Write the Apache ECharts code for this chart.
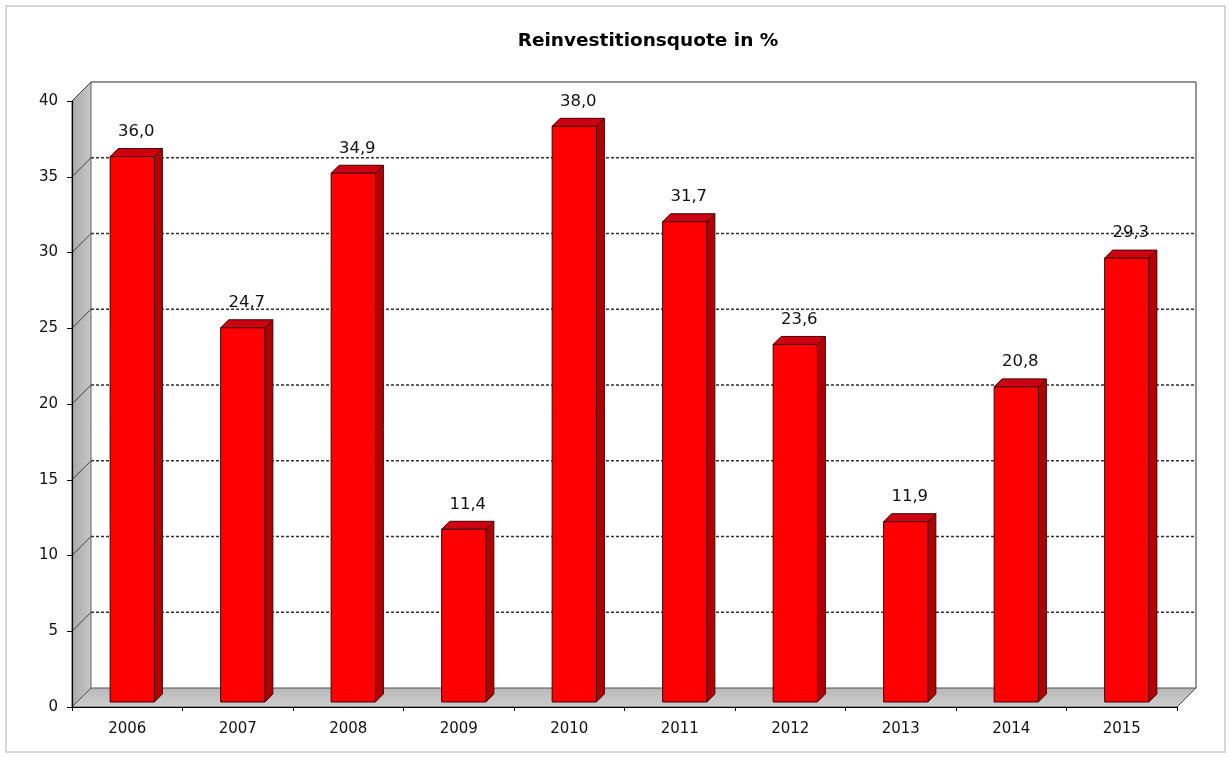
<!DOCTYPE html>
<html>
<head>
<meta charset="utf-8">
<script src="https://cdn.jsdelivr.net/npm/echarts@6/dist/echarts.min.js"></script>
<style>html,body{margin:0;padding:0;background:#fff}#c{width:1229px;height:758px}</style>
</head>
<body>
<div id="c"></div>
<script>
const titleText = 'Reinvestitionsquote in %';
const years = ['2006','2007','2008','2009','2010','2011','2012','2013','2014','2015'];
const values = [36.0, 24.7, 34.9, 11.4, 38.0, 31.7, 23.6, 11.9, 20.8, 29.3];
const yTicks = [0, 5, 10, 15, 20, 25, 30, 35, 40];

const FONT = 'DejaVu Sans';
const WALL = 19;     // depth of back wall
const BAR_D0 = 5;    // bar front depth
const BAR_D1 = 13;   // bar back depth

const chart = echarts.init(document.getElementById('c'), null, {renderer: 'canvas'});

function fmt(v){ return v.toFixed(1).replace('.', ','); }

function renderWalls(params, api){
  const cs = params.coordSys;
  const x0 = cs.x, x1 = cs.x + cs.width;
  const yTop = api.coord([0, yTicks[yTicks.length-1]])[1];
  const yBot = api.coord([0, 0])[1];
  const D = WALL;
  const ch = [];
  ch.push({type:'polygon', shape:{points:[[x0+D,yTop-D],[x1+D,yTop-D],[x1+D,yBot-D],[x0+D,yBot-D]]},
    style:{fill:'#ffffff', stroke:null}});
  ch.push({type:'polygon', shape:{points:[[x0,yTop],[x0+D,yTop-D],[x0+D,yBot-D],[x0,yBot]]},
    style:{fill:new echarts.graphic.LinearGradient(0,0,1,0,[{offset:0,color:'#a8a8a8'},{offset:1,color:'#c8c8c8'}]), stroke:'#606060', lineWidth:1}});
  ch.push({type:'polygon', shape:{points:[[x0,yBot],[x0+D,yBot-D],[x1+D,yBot-D],[x1,yBot]]},
    style:{fill:new echarts.graphic.LinearGradient(0,0,0,1,[{offset:0,color:'#b8b8b8'},{offset:1,color:'#cecece'}]), stroke:'#505050', lineWidth:1}});
  yTicks.forEach(function(v){
    if (v === 0) return;
    const y = api.coord([0, v])[1];
    ch.push({type:'line', shape:{x1:x0, y1:y, x2:x0+D, y2:y-D}, style:{stroke:'#404040', lineWidth:1}});
    if (v === yTicks[yTicks.length-1]) {
      ch.push({type:'line', shape:{x1:x0+D, y1:y-D, x2:x1+D, y2:y-D}, style:{stroke:'#707070', lineWidth:1.5}});
    } else {
      ch.push({type:'line', shape:{x1:x0+D, y1:y-D, x2:x1+D, y2:y-D}, style:{stroke:'#303030', lineWidth:1.3, lineDash:[3,2]}});
    }
  });
  ch.push({type:'line', shape:{x1:x1+D, y1:yTop-D, x2:x1+D, y2:yBot-D}, style:{stroke:'#505050', lineWidth:1.2}});
  return {type:'group', children: ch};
}

function renderBar(params, api){
  const i = api.value(0), v = api.value(1);
  const top = api.coord([i, v]);
  const base = api.coord([i, 0]);
  const bw = api.size([1, 0])[0] * 0.4;
  const dd = BAR_D1 - BAR_D0;
  const xa = top[0] - bw/2 + BAR_D0, xb = xa + bw;
  const yT = top[1] - BAR_D0, yB = base[1] - BAR_D0;
  const stroke = {stroke:'#400000', lineWidth:1};
  return {type:'group', children:[
    {type:'polygon', shape:{points:[[xb,yT],[xb+dd,yT-dd],[xb+dd,yB-dd],[xb,yB]]}, style:Object.assign({fill:'#b00000'}, stroke)},
    {type:'polygon', shape:{points:[[xa,yT],[xa+dd,yT-dd],[xb+dd,yT-dd],[xb,yT]]}, style:Object.assign({fill:'#cc0010'}, stroke)},
    {type:'rect', shape:{x:xa, y:yT, width:bw, height:yB-yT}, style:Object.assign({fill:'#ff0000'}, stroke)},
    {type:'text', style:{x:(xa+xb)/2 + dd/2, y:yT-dd-17, text:fmt(v), fill:'#111', font:'16.5px "DejaVu Sans"', align:'center', verticalAlign:'middle'}}
  ]};
}

const option = {
  animation: false,
  backgroundColor: '#ffffff',
  title: {
    text: titleText, left: 643, top: 27, textAlign: 'center',
    textStyle: {fontFamily: FONT, fontSize: 18.5, fontWeight: 'bold', color: '#000'}
  },
  graphic: [{type:'rect', shape:{x:6, y:6, width:1219, height:746}, style:{fill:null, stroke:'#cccccc', lineWidth:1.5}, z:-10}],
  grid: {left: 72, right: 52, top: 101, bottom: 51},
  xAxis: {
    type: 'category', data: years, boundaryGap: true,
    axisLine: {show: true, lineStyle: {color: '#000', width: 1.2}},
    axisTick: {show: true, length: 4, lineStyle: {color: '#000'}},
    axisLabel: {fontFamily: FONT, fontSize: 15, color: '#111', margin: 15},
    z: 5
  },
  yAxis: {
    type: 'value', min: 0, max: 40, interval: 5,
    axisLine: {show: true, lineStyle: {color: '#000', width: 1.2}},
    axisTick: {show: true, length: 5, lineStyle: {color: '#000'}},
    axisLabel: {fontFamily: FONT, fontSize: 15, color: '#111', margin: 14},
    splitLine: {show: false},
    z: 5
  },
  series: [
    {type:'custom', renderItem: renderWalls, data: [[0, 0]], z: 1, silent: true, clip: false},
    {type:'custom', renderItem: renderBar, data: values.map(function(v, i){ return [i, v]; }), encode:{x:0, y:1}, z: 3, clip: false}
  ]
};
chart.setOption(option);
</script>
</body>
</html>
